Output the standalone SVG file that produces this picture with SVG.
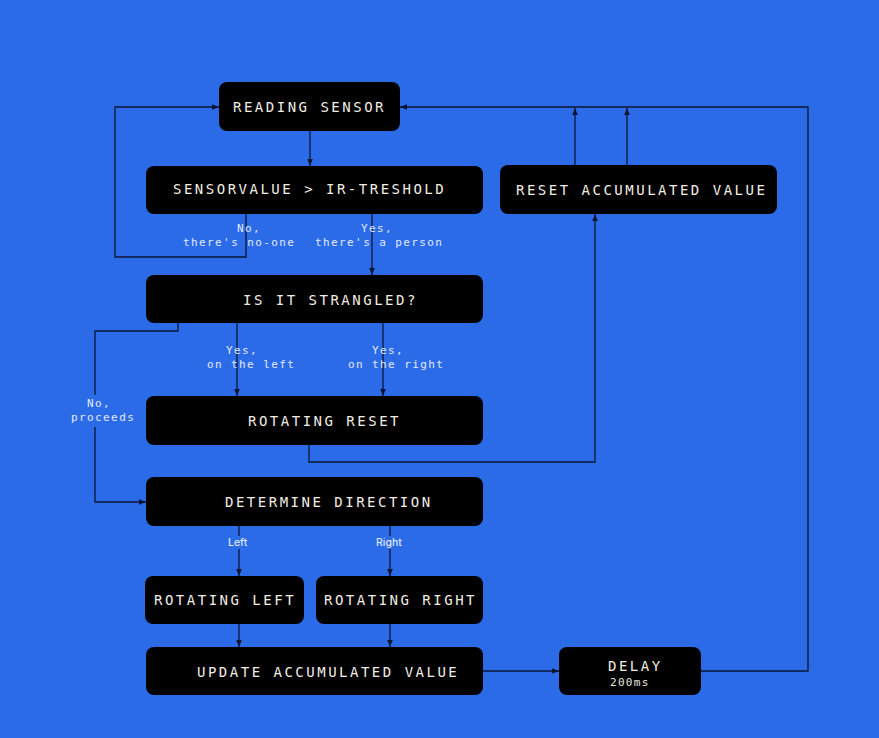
<svg xmlns="http://www.w3.org/2000/svg" width="879" height="738" viewBox="0 0 879 738">
<defs>
<marker id="ah" viewBox="0 0 8 8" refX="8" refY="4" markerWidth="7" markerHeight="7" markerUnits="userSpaceOnUse" orient="auto">
<path d="M0,0.8 L8,4 L0,7.2 Z" fill="#0b1633"/>
</marker>
<style>
.node rect{fill:#000;}
.nt{font-family:"DejaVu Sans Mono","Liberation Mono",monospace;font-size:14px;fill:#f2ede2;letter-spacing:2.5px;}
.st{font-family:"DejaVu Sans Mono","Liberation Mono",monospace;font-size:11px;fill:#e9e6df;letter-spacing:1.3px;}
.el{font-family:"DejaVu Sans Mono","Liberation Mono",monospace;font-size:11px;fill:#e2eafc;letter-spacing:1.4px;}
.es{font-family:Inter,"Noto Sans",sans-serif;font-size:10.5px;font-weight:500;fill:#dfe8fb;}
.c path{fill:none;stroke:#0b1633;stroke-width:1.3;}
.bg{fill:#2c6be8;}
</style>
</defs>
<rect width="879" height="738" fill="#2c6be8"/>
<g class="c" id="connectors">
<path d="M310,131 V166" marker-end="url(#ah)"/>
<path d="M246,214 V257 H115 V107 H219" marker-end="url(#ah)"/>
<path d="M372,214 V275" marker-end="url(#ah)"/>
<path d="M701,671 H808 V107 H400" marker-end="url(#ah)"/>
<path d="M575,165 V108" marker-end="url(#ah)"/>
<path d="M627,165 V108" marker-end="url(#ah)"/>
<path d="M309,445 V462 H595 V214" marker-end="url(#ah)"/>
<path d="M178,323 V331 H95 V502 H146" marker-end="url(#ah)"/>
<path d="M237,323 V396" marker-end="url(#ah)"/>
<path d="M383,323 V396" marker-end="url(#ah)"/>
<path d="M239,526 V576" marker-end="url(#ah)"/>
<path d="M390,526 V576" marker-end="url(#ah)"/>
<path d="M239,624 V647" marker-end="url(#ah)"/>
<path d="M390,624 V647" marker-end="url(#ah)"/>
<path d="M483,671 H559" marker-end="url(#ah)"/>
</g>
<g id="edge-labels">
<text class="el" x="237" y="232">No,</text>
<text class="el" x="183" y="246">there's no-one</text>
<text class="el" x="361" y="232">Yes,</text>
<text class="el" x="315" y="246">there's a person</text>
<text class="el" x="226" y="354">Yes,</text>
<text class="el" x="207" y="368">on the left</text>
<text class="el" x="372" y="354">Yes,</text>
<text class="el" x="348" y="368">on the right</text>
<rect class="bg" x="68" y="395" width="70" height="32"/>
<text class="el" x="87" y="407">No,</text>
<text class="el" x="71" y="421">proceeds</text>
<rect class="bg" x="226" y="536" width="27" height="13"/>
<text class="es" x="228" y="546">Left</text>
<rect class="bg" x="374" y="536" width="34" height="13"/>
<text class="es" x="376" y="546">Right</text>
</g>
<g class="node" id="reading-sensor"><rect x="219" y="82" width="181" height="49" rx="8"/><text class="nt" x="233" y="112">READING SENSOR</text></g>
<g class="node" id="sensorvalue"><rect x="146" y="166" width="337" height="48" rx="8"/><text class="nt" x="173" y="194">SENSORVALUE &gt; IR-TRESHOLD</text></g>
<g class="node" id="reset-accumulated"><rect x="500" y="165" width="277" height="49" rx="8"/><text class="nt" x="516" y="195">RESET ACCUMULATED VALUE</text></g>
<g class="node" id="strangled"><rect x="146" y="275" width="337" height="48" rx="8"/><text class="nt" x="243" y="305">IS IT STRANGLED?</text></g>
<g class="node" id="rotating-reset"><rect x="146" y="396" width="337" height="49" rx="8"/><text class="nt" x="248" y="426">ROTATING RESET</text></g>
<g class="node" id="determine-direction"><rect x="146" y="477" width="337" height="49" rx="8"/><text class="nt" x="225" y="507">DETERMINE DIRECTION</text></g>
<g class="node" id="rotating-left"><rect x="145" y="576" width="159" height="48" rx="8"/><text class="nt" x="154" y="605">ROTATING LEFT</text></g>
<g class="node" id="rotating-right"><rect x="316" y="576" width="167" height="48" rx="8"/><text class="nt" x="324" y="605">ROTATING RIGHT</text></g>
<g class="node" id="update-accumulated"><rect x="146" y="647" width="337" height="48" rx="8"/><text class="nt" x="197" y="677">UPDATE ACCUMULATED VALUE</text></g>
<g class="node" id="delay"><rect x="559" y="647" width="142" height="48" rx="8"/><text class="nt" x="608" y="671">DELAY</text><text class="st" x="610" y="686">200ms</text></g>
</svg>
